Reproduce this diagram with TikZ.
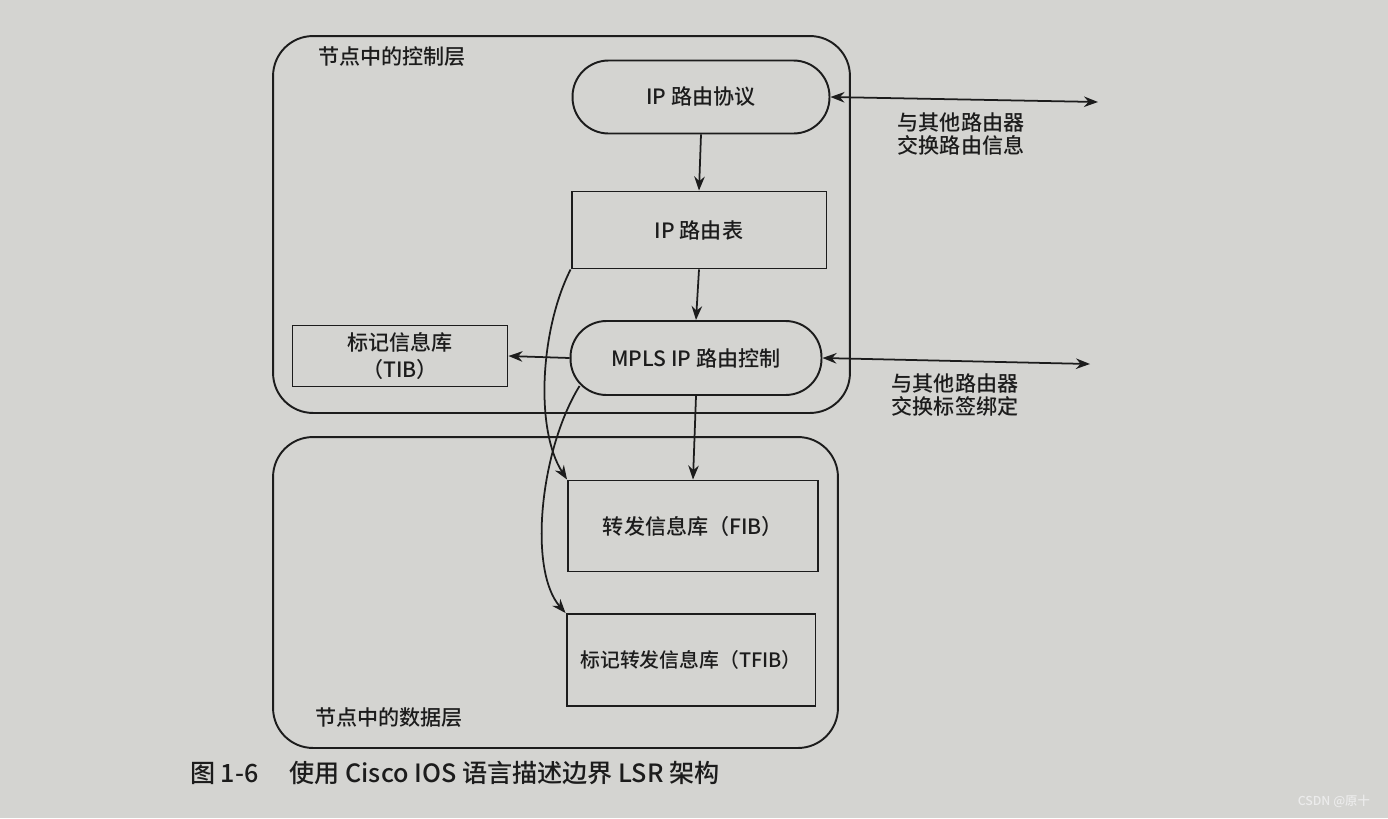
\documentclass[tikz,border=0pt]{standalone}
\usepackage{fontspec}
\setmainfont{Noto Sans CJK SC}[UprightFont={* Medium},BoldFont={* Bold}]
\usepackage{tikz}
\usetikzlibrary{arrows.meta,positioning,calc}
\definecolor{pagegray}{RGB}{212,212,209}
\definecolor{inkgray}{RGB}{28,28,28}
\tikzset{
  layerbox/.style={rectangle,rounded corners=0.8cm,draw=inkgray,line width=1.1pt},
  roundbox/.style={rectangle,rounded corners=0.72cm,draw=inkgray,line width=1.1pt,
    align=center,font=\fontsize{12}{15}\selectfont,text=inkgray},
  tablebox/.style={rectangle,draw=inkgray,line width=1.1pt,
    align=center,font=\fontsize{12}{15}\selectfont,text=inkgray},
  sidelabel/.style={align=center,font=\fontsize{12}{13.6}\selectfont,text=inkgray},
  arrow/.style={-{Stealth[length=8pt,width=6pt]},line width=1pt,draw=inkgray},
  darrow/.style={{Stealth[length=8pt,width=6pt]}-{Stealth[length=8pt,width=6pt]},
    line width=1pt,draw=inkgray},
}

\begin{document}
\begin{tikzpicture}[x=0.02cm,y=-0.02cm]

  % page background
  \fill[pagegray] (0,0) rectangle (1388,818);
  \useasboundingbox (0,0) rectangle (1388,818);

  % layer frames
  \node[layerbox,minimum width=11.54cm,minimum height=7.54cm] (ctl) at (561.5,224.5) {};
  \node[layerbox,minimum width=11.3cm,minimum height=6.22cm] (data) at (555.5,592.5) {};
  \node[sidelabel,anchor=west] (ctllbl) at (312,57) {节点中的控制层};
  \node[sidelabel,anchor=west] (datalbl) at (309,718) {节点中的数据层};

  % control layer
  \node[roundbox,minimum width=5.14cm,minimum height=1.46cm] (proto) at (701,97)
    {IP 路由协议};
  \node[tablebox,minimum width=5.1cm,minimum height=1.54cm] (rtable) at (699,230)
    {IP 路由表};
  \node[roundbox,minimum width=5.02cm,minimum height=1.48cm] (mpls) at (696,358)
    {MPLS IP 路由控制};
  \node[tablebox,minimum width=4.3cm,minimum height=1.22cm] (tib) at (400,356)
    {标记信息库\\（TIB）};

  % data layer
  \node[tablebox,minimum width=5cm,minimum height=1.82cm] (fib) at (693,526)
    {转发信息库（FIB）};
  \node[tablebox,minimum width=4.98cm,minimum height=1.84cm,
        font=\fontsize{11.3}{14}\selectfont] (tfib) at (691,660)
    {标记转发信息库（TFIB）};

  % peers
  \coordinate (peerA) at (1098,102);
  \coordinate (peerB) at (1090,364);
  \node[sidelabel] (peerAlbl) at (961,134) {与其他路由器\\交换路由信息};
  \node[sidelabel] (peerBlbl) at (955,395) {与其他路由器\\交换标签绑定};

  % arrows
  \draw[arrow] (proto.south) -- (rtable.north);
  \draw[arrow] (rtable.south) -- (mpls.north);
  \draw[arrow] (mpls.south) -- (fib.north);
  \draw[arrow] (mpls.west) -- (tib.east);
  \draw[darrow] (proto.east) -- (peerA);
  \draw[darrow] (mpls.east) -- (peerB);
  \draw[arrow] (rtable.south west) .. controls (540,330) and (535,430) .. (fib.north west);
  \draw[arrow] ($(mpls.south west)+(10,-10)$) .. controls (540,450) and (528,570)
    .. (tfib.north west);

  % caption
  \node[anchor=west,font=\fontsize{14.3}{16}\selectfont,text=inkgray] (caption) at (184,773)
    {图 1-6\hspace{0.62cm}使用 Cisco IOS 语言描述边界 LSR 架构};
  \node[anchor=east,font=\fontsize{7}{8}\selectfont,text=white!85!gray] (mark) at (1376,801)
    {CSDN @原十};

\end{tikzpicture}
\end{document}
